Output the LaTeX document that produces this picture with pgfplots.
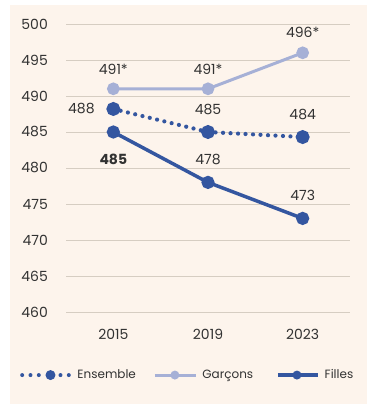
\documentclass[border=0pt]{standalone}
\usepackage{fontspec}
\setmainfont{Poppins}
\usepackage{pgfplots}
\pgfplotsset{compat=1.18}
\definecolor{bg}{RGB}{253,244,236}
\definecolor{gridc}{RGB}{214,205,194}
\definecolor{dark}{RGB}{52,86,160}
\definecolor{light}{RGB}{166,176,214}
\definecolor{txt}{RGB}{50,50,50}
\newcommand{\numfont}{\fontsize{14bp}{16bp}\selectfont}
\newcommand{\legfont}{\fontsize{12bp}{14bp}\selectfont}
\begin{document}
\begin{tikzpicture}
\useasboundingbox (0,0) rectangle (380bp,409bp);
\fill[bg] (10bp,5bp) rectangle (367bp,404bp);
\begin{axis}[
  at={(66bp,97bp)}, anchor=south west,
  scale only axis, width=284bp, height=288bp,
  xmin=-0.5, xmax=2.5, ymin=460, ymax=500,
  xtick={0,1,2}, xticklabels={2015,2019,2023},
  ytick={460,465,...,500},
  /pgf/number format/assume math mode=true,
  axis line style={draw=none}, tick style={draw=none},
  ymajorgrids, grid style={gridc, line width=1bp},
  tick label style={font=\numfont, text=txt},
  xticklabel style={anchor=center, yshift=-22bp, inner sep=0pt},
  yticklabel style={anchor=east, xshift=-18bp, inner sep=0pt},
  clip=false,
  legend columns=3,
  legend style={at={(-0.162,-0.219)}, anchor=west, draw=none, fill=none,
    inner sep=0pt, font=\legfont, text=txt,
    nodes={inner xsep=0bp, inner ysep=0bp},
    /tikz/column 1/.style={column sep=5bp},
    /tikz/column 2/.style={column sep=17.5bp},
    /tikz/column 3/.style={column sep=5bp},
    /tikz/column 4/.style={column sep=23bp},
    /tikz/column 5/.style={column sep=5bp}},
  legend cell align=left,
]
\addplot[dark, line width=4.2bp, line cap=round, dash pattern=on 0bp off 7.5bp,
  mark=*, mark size=4.8bp, mark options={solid, draw=none, fill=dark},
  legend image code/.code={
    \path[fill=dark, draw=none] (0bp,0bp) circle (2bp);
    \path[fill=dark, draw=none] (8.3bp,0bp) circle (2bp);
    \path[fill=dark, draw=none] (16.6bp,0bp) circle (2bp);
    \path[fill=dark, draw=none] (28.3bp,0bp) circle (5bp);
    \path[fill=dark, draw=none] (38.3bp,0bp) circle (2bp);
    \path[fill=dark, draw=none] (46.6bp,0bp) circle (2bp);
    \path[draw=none] (50.3bp,0bp);}]
  coordinates {(0,488.2) (1,485) (2,484.3)};
\addlegendentry{Ensemble}
\addplot[light, line width=3bp, mark=*, mark size=4.8bp, mark options={draw=none, fill=light},
  legend image code/.code={
    \draw[light, line width=3bp, solid] (0bp,0bp) -- (41bp,0bp);
    \path[fill=light, draw=none] (20bp,0bp) circle (4.5bp);}]
  coordinates {(0,491) (1,491) (2,496)};
\addlegendentry{Garçons}
\addplot[dark, line width=3.5bp, mark=*, mark size=4.8bp, mark options={draw=none, fill=dark},
  legend image code/.code={
    \draw[dark, line width=3.5bp, solid] (0bp,0bp) -- (40bp,0bp);
    \path[fill=dark, draw=none] (19bp,0bp) circle (4.5bp);
    \path[draw=none] (41bp,0bp);}]
  coordinates {(0,485) (1,478) (2,473)};
\addlegendentry{Filles}
\begin{scope}[every node/.style={text=txt, font=\numfont}]
\node[yshift=19bp] at (axis cs:0,491) {491*};
\node[yshift=19bp] at (axis cs:1,491) {491*};
\node[yshift=20bp] at (axis cs:2,496) {496*};
\node[anchor=east, inner sep=0pt, xshift=-18.5bp] at (axis cs:0,488.2) {488};
\node[yshift=22bp] at (axis cs:1,485) {485};
\node[yshift=23bp] at (axis cs:2,484.3) {484};
\node[yshift=-27bp, font=\numfont\bfseries] at (axis cs:0,485) {485};
\node[yshift=23bp] at (axis cs:1,478) {478};
\node[yshift=23bp] at (axis cs:2,473) {473};
\end{scope}
\end{axis}
\end{tikzpicture}
\end{document}
